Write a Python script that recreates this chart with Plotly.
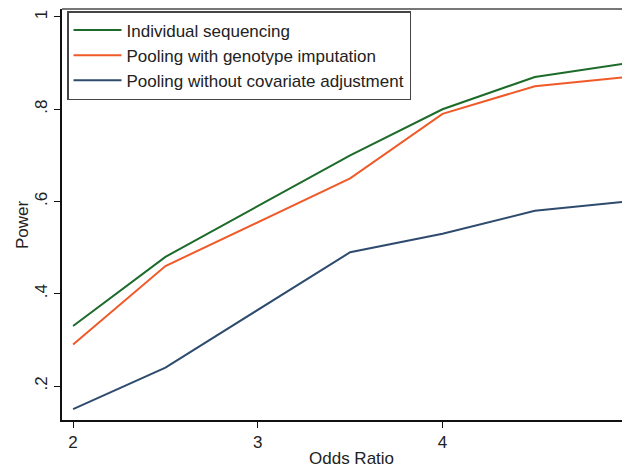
import plotly.graph_objects as go

odds_ratio = [2, 2.5, 3.5, 4, 4.5, 5]
individual = [0.33, 0.48, 0.70, 0.80, 0.87, 0.90]
pooling_imp = [0.29, 0.46, 0.65, 0.79, 0.85, 0.87]
pooling_nocov = [0.15, 0.24, 0.49, 0.53, 0.58, 0.60]

names = ["Individual sequencing", "Pooling with genotype imputation", "Pooling without covariate adjustment"]
colors = ["#1d6b2a", "#ef5a28", "#2e4b6e"]

x_ticks = [2, 3, 4, 5]
x_ticklabels = ["2", "3", "4", "5"]
y_ticks = [0.2, 0.4, 0.6, 0.8, 1.0]
y_ticklabels = [".2", ".4", ".6", ".8", "1"]

fig = go.Figure()
for ys, n, c in zip([individual, pooling_imp, pooling_nocov], names, colors):
    fig.add_trace(go.Scatter(x=odds_ratio, y=ys, mode="lines", name=n,
                             line=dict(color=c, width=2)))

# The page body adds an 8px offset; figure is sized so the plot area lands
# at x 62..630, y 9..420 in the window.
PW, PH = 568, 411
fig.update_layout(
    width=622, height=457,
    margin=dict(l=54, r=0, t=1, b=45, autoexpand=False),
    plot_bgcolor="white", paper_bgcolor="white",
    font=dict(family="Liberation Sans, Arial, sans-serif", size=17, color="#222"),
    showlegend=True,
    legend=dict(x=5 / PW, y=1 - 2 / PH, xanchor="left", yanchor="top",
                bordercolor="#444", borderwidth=1.5, bgcolor="white",
                font=dict(size=17), tracegroupgap=0, itemwidth=48),
    xaxis=dict(range=[1.94, 5.015], tickvals=x_ticks, ticktext=x_ticklabels,
               showgrid=False, zeroline=False, showline=True, linecolor="#111",
               linewidth=1.5, ticks="outside", ticklen=6, tickcolor="#111",
               tickfont=dict(size=17), automargin=False, ticklabeloverflow="allow"),
    yaxis=dict(range=[0.1263, 1.0173], tickvals=y_ticks, ticktext=y_ticklabels,
               showgrid=False, zeroline=False, showline=True, linecolor="#111",
               linewidth=1.5, ticks="outside", ticklen=6, tickcolor="#111",
               tickangle=-90, tickfont=dict(size=17), automargin=False),
    shapes=[dict(type="line", xref="paper", yref="paper", x0=0, x1=1, y0=1, y1=1,
                 line=dict(color="#777", width=2))],
    annotations=[
        dict(text="Odds Ratio", xref="paper", yref="paper", x=(351 - 62) / PW, y=(420 - 458) / PH,
             xanchor="center", yanchor="middle", showarrow=False, font=dict(size=17)),
        dict(text="Power", xref="paper", yref="paper", x=(22 - 62) / PW, y=(420 - 225) / PH,
             xanchor="center", yanchor="middle", showarrow=False, textangle=-90,
             font=dict(size=17)),
    ],
)

fig.write_html("out.html")
